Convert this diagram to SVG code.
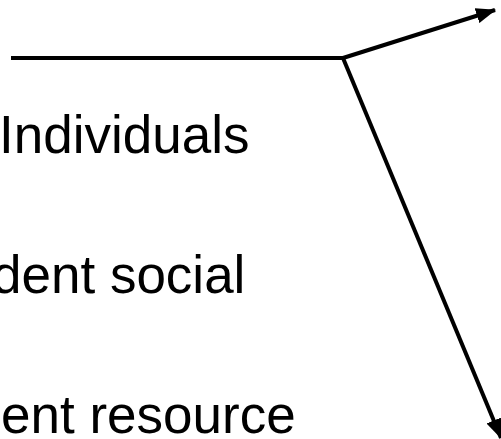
<svg xmlns="http://www.w3.org/2000/svg" width="501" height="439" viewBox="0 0 501 439">
<style>
.t{font-family:"Liberation Sans",Arial,sans-serif;font-size:53px;fill:#000}
.c{stroke:#000;fill:none;stroke-width:4}
</style>
<defs>
<marker id="ah" markerUnits="userSpaceOnUse" markerWidth="20" markerHeight="16" viewBox="0 0 18 14" refX="17" refY="7" orient="auto">
<path d="M0,0 L18,7 L0,14 Z" fill="#000"/>
</marker>
</defs>
<rect width="501" height="439" fill="#fff"/>
<g id="connectors">
<line class="c" x1="11" y1="58" x2="343" y2="58"/>
<line class="c" x1="343" y1="58" x2="495" y2="10" marker-end="url(#ah)"/>
<line class="c" x1="343" y1="58" x2="501" y2="438" marker-end="url(#ah)"/>
</g>
<g id="label1"><text class="t" x="-1" y="153">Individuals</text></g>
<g id="label2"><text class="t" x="-8" y="293">dent social</text></g>
<g id="label3"><text class="t" x="1" y="433">ent resource</text></g>
</svg>
